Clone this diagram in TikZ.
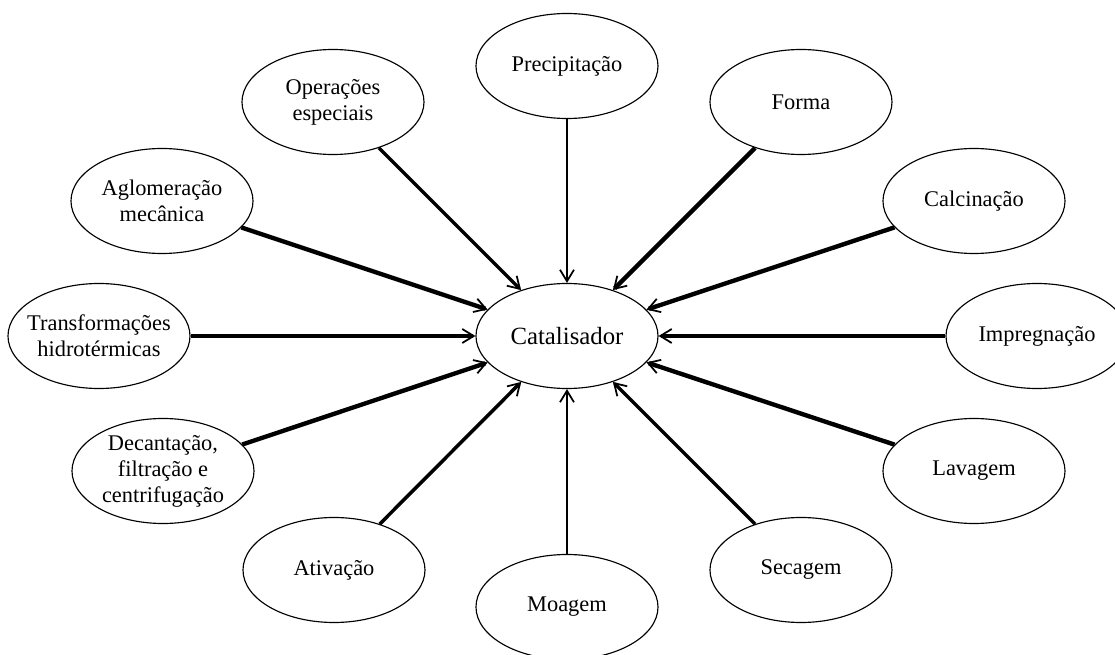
\documentclass[tikz,border=0pt]{standalone}
\usepackage{fontspec}
\setmainfont{Liberation Serif}
\usetikzlibrary{shapes.geometric,arrows.meta}
\begin{document}
\begin{tikzpicture}[
etapa/.style={ellipse,draw,line width=0.65pt,minimum width=3.64cm,minimum height=2.1cm,
  inner xsep=-3mm,inner ysep=0pt,align=center,font=\fontsize{12.75}{14.8}\selectfont},
seta/.style={-{Straight Barb[length=2.3mm,width=2.8mm,line width=1pt]}},
fina/.style={seta,line width=1.6pt},
media/.style={seta,line width=2pt},
grossa/.style={seta,line width=2.5pt}]
\useasboundingbox(-11.34,-6.38)rectangle(10.96,6.72);
%
\node[etapa,font=\fontsize{14.1}{16}\selectfont](cat)at(0,0){Catalisador};
\node[etapa](prec)at(0,5.4){Precipitação};
\node[etapa](forma)at(4.68,4.68){Forma};
\node[etapa](calc)at(8.14,2.7){Calcinação};
\node[etapa](impr)at(9.4,0){Impregnação};
\node[etapa](lav)at(8.14,-2.7){Lavagem};
\node[etapa](sec)at(4.68,-4.68){Secagem};
\node[etapa](moag)at(0,-5.42){Moagem};
\node[etapa](ativ)at(-4.66,-4.68){Ativação};
\node[etapa](dec)at(-8.08,-2.7){Decantação,\\filtração e\\centrifugação};
\node[etapa](trans)at(-9.36,0){Transformações\\hidrotérmicas};
\node[etapa](aglo)at(-8.1,2.7){Aglomeração\\mecânica};
\node[etapa](ope)at(-4.68,4.68){Operações\\especiais};
%
\draw[fina](prec)--(cat);
\draw[fina](moag)--(cat);
\draw[media](ope)--(cat);
\draw[media](ativ)--(cat);
\draw[media](sec)--(cat);
\draw[grossa](forma)--(cat);
\draw[grossa](calc)--(cat);
\draw[grossa](impr)--(cat);
\draw[grossa](lav)--(cat);
\draw[grossa](dec)--(cat);
\draw[grossa](trans)--(cat);
\draw[grossa](aglo)--(cat);
\end{tikzpicture}
\end{document}
